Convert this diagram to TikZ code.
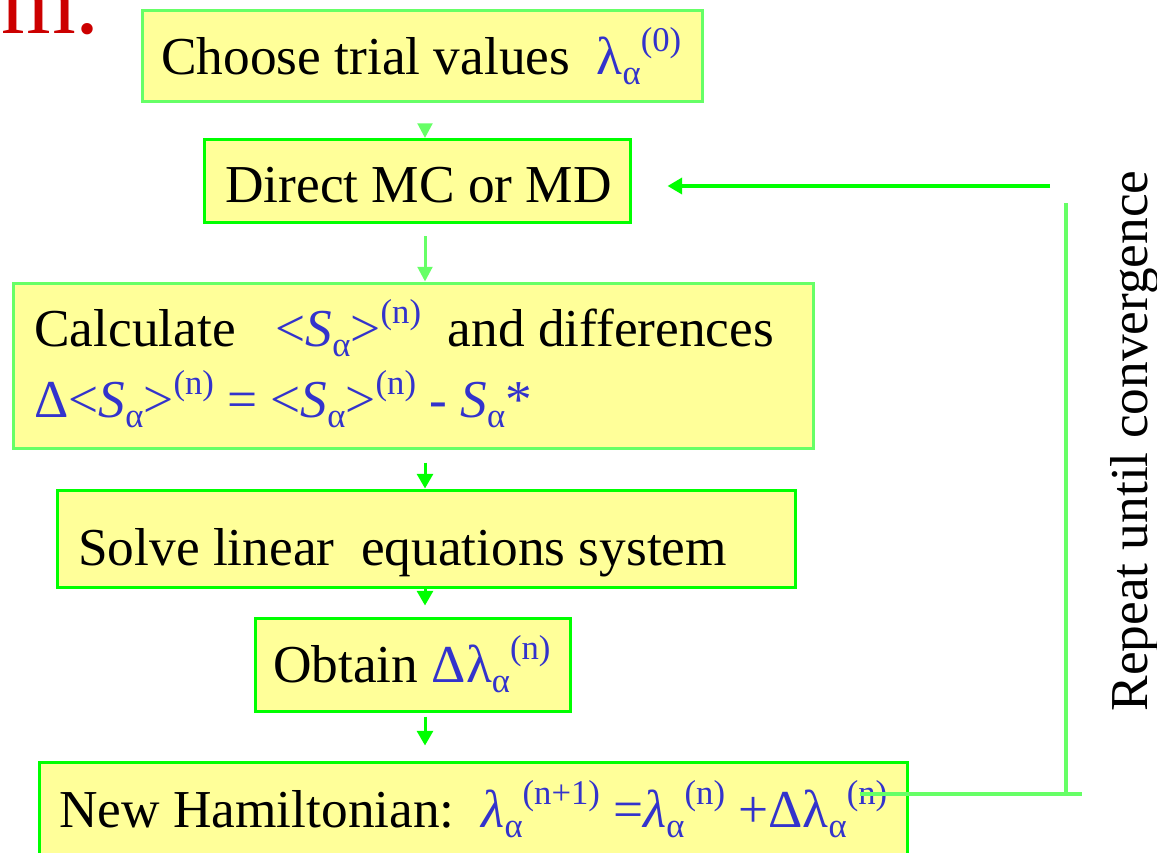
\documentclass[tikz,border=0pt]{standalone}
\usepackage{fontspec}
\setmainfont{Liberation Serif}
\usetikzlibrary{arrows.meta,calc}
\definecolor{boxfill}{HTML}{FFFF99}
\definecolor{lgreen}{HTML}{66FF66}
\definecolor{bgreen}{HTML}{00FF00}
\definecolor{mblue}{HTML}{3333CC}
\definecolor{tred}{HTML}{CC0000}
\newcommand{\mysub}[1]{\raisebox{-0.2em}{\fontsize{26}{26}\selectfont #1}}
\newcommand{\mysup}[1]{\raisebox{0.42em}{\fontsize{26}{26}\selectfont #1}}
\newcommand{\bl}[1]{\textcolor{mblue}{#1}}
\tikzset{
  boxL/.style={draw=lgreen, line width=2.25pt, fill=boxfill, rectangle, inner sep=0pt},
  boxG/.style={draw=bgreen, line width=2.25pt, fill=boxfill, rectangle, inner sep=0pt},
  txt/.style={inner sep=0pt, anchor=base west, font=\fontsize{40}{48}\selectfont},
  arrL/.style={draw=lgreen, line width=2.25pt, -{Triangle[length=11pt,width=11pt]}},
  arrG/.style={draw=bgreen, line width=2.25pt, -{Triangle[length=11pt,width=12pt]}},
  fbarrow/.style={draw=bgreen, line width=3pt, -{Triangle[length=11pt,width=12pt]}},
  fbline/.style={draw=lgreen, line width=3.2pt}
}
\begin{document}
\begin{tikzpicture}[x=0.75pt,y=-0.75pt]
\useasboundingbox (0,0) rectangle (1157,853);
\clip (0,0) rectangle (1157,853);
% title fragment
\node[inner sep=0pt, anchor=base east, text=tred, font=\fontsize{72}{80}\selectfont] (title) at (100,33) {m.};
% boxes
\node[boxL, minimum width=420pt, minimum height=68.25pt] (b1) at (422,55.5) {};
\node[boxG, minimum width=319.5pt, minimum height=62.25pt] (b2) at (417,181) {};
\node[boxL, minimum width=600pt, minimum height=123.75pt] (b3) at (413,365.5) {};
\node[boxG, minimum width=553.5pt, minimum height=72.75pt] (b4) at (426,538.5) {};
\node[boxG, minimum width=236.25pt, minimum height=69.75pt] (b5) at (412.5,664.5) {};
\node[boxG, minimum width=651pt, minimum height=102pt] (b6) at (473,830) {};
% texts
\node[txt] (t1) at (161,74) {Choose trial values\ \ \bl{λ\mysub{α}\mysup{(0)}}};
\node[txt] (t2) at (225,202) {Direct MC or MD};
\node[txt] (t3a) at (34,346) {Calculate\ \ \ \bl{<\textit{S}\mysub{α}>\mysup{(n)}}\ \ and differences};
\node[txt] (t3b) at (34,417) {\bl{Δ<\textit{S}\mysub{α}>\mysup{(n)} = <\textit{S}\mysub{α}>\mysup{(n)} - \textit{S}\mysub{α}*}};
\node[txt] (t4) at (78,565) {Solve linear\ \ equations system};
\node[txt] (t5) at (273,682) {Obtain \bl{Δλ\mysub{α}\mysup{(n)}}};
\node[txt] (t6) at (59,827) {New Hamiltonian:\ \ \bl{\textit{λ}\mysub{α}\mysup{(n+1)} =\textit{λ}\mysub{α}\mysup{(n)} +Δλ\mysub{α}\mysup{(n)}}};
% vertical label
\node[inner sep=0pt, rotate=90, anchor=base, font=\fontsize{40}{48}\selectfont] (rep) at (1147,441) {Repeat until convergence};
% down arrows
\coordinate (ax) at (425,0);
\draw[arrL] ($(b1.south -| ax)+(0,22)$) -- (b2.north -| ax);
\draw[arrL] ($(b2.south -| ax)+(0,12)$) -- (b3.north -| ax);
\draw[arrG] ($(b3.south -| ax)+(0,13)$) -- (b4.north -| ax);
\draw[arrG] (b4.south -| ax) -- ($(b5.north -| ax)+(0,-11)$);
\draw[arrG] ($(b5.south -| ax)+(0,4)$) -- ($(b6.north -| ax)+(0,-15)$);
% feedback loop
\coordinate (fbR) at (1050,186);
\coordinate (vt) at (1066,203);
\coordinate (vb) at (1066,794);
\coordinate (hb) at (1082,794);
\draw[fbarrow] (fbR) -- ($(b2.east)+(36,5)$);
\draw[fbline] (vt) -- (vb);
\draw[fbline] ($(b6.east)+(-49,-36)$) -- (hb);
\end{tikzpicture}
\end{document}
